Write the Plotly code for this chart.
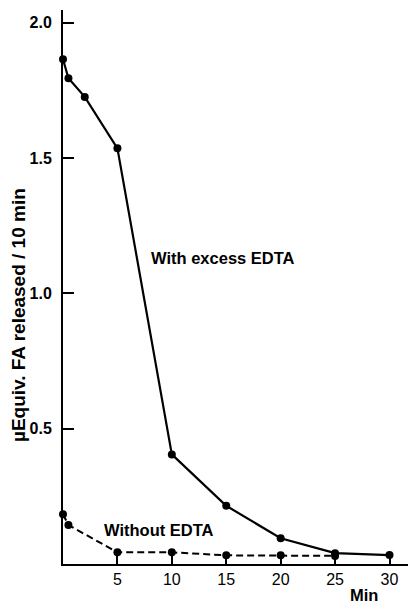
import plotly.graph_objects as go

# data
with_x = [0, 0.5, 2, 5, 10, 15, 20, 25, 30]
with_y = [1.865, 1.795, 1.726, 1.536, 0.405, 0.215, 0.095, 0.04, 0.033]
without_x = [0, 0.5, 5, 10, 15, 20, 25]
without_y = [0.184, 0.144, 0.043, 0.043, 0.032, 0.032, 0.03]
x_ticks = [5, 10, 15, 20, 25, 30]
y_ticks = [0.5, 1.0, 1.5, 2.0]
y_ticklabels = ["0.5", "1.0", "1.5", "2.0"]

FONT = "Liberation Sans"

fig = go.Figure()
fig.add_trace(go.Scatter(
    x=with_x, y=with_y, mode="lines+markers",
    line=dict(color="black", width=2.2),
    marker=dict(color="black", size=8),
    showlegend=False, cliponaxis=False))
fig.add_trace(go.Scatter(
    x=without_x, y=without_y, mode="lines+markers",
    line=dict(color="black", width=2, dash="7px,4px"),
    marker=dict(color="black", size=8),
    showlegend=False, cliponaxis=False))

fig.add_annotation(x=7.9, y=1.13, text="<b>With excess EDTA</b>", showarrow=False,
                   xanchor="left", yanchor="middle",
                   font=dict(family=FONT, size=16.5, color="black"))
fig.add_annotation(x=3.6, y=0.126, text="<b>Without EDTA</b>", showarrow=False,
                   xanchor="left", yanchor="middle",
                   font=dict(family=FONT, size=16.5, color="black"))
fig.add_annotation(x=1, xref="paper", y=-42 / 554, yref="paper", xshift=-28,
                   text="<b>Min</b>", showarrow=False,
                   xanchor="right", yanchor="bottom",
                   font=dict(family=FONT, size=16.5, color="black"))
fig.add_annotation(x=0, xref="paper", xshift=-45, y=0.92, yref="y",
                   text="<b>µEquiv. FA released / 10 min</b>", showarrow=False,
                   textangle=-90, xanchor="center", yanchor="middle",
                   font=dict(family=FONT, size=19, color="black"))

fig.update_layout(
    width=408, height=606,
    margin=dict(l=63, r=0, t=10, b=42),
    paper_bgcolor="white", plot_bgcolor="white",
    font=dict(family=FONT, size=16, color="black"),
    xaxis=dict(range=[0, 31.7], tickvals=x_ticks,
               ticks="inside", ticklen=11, tickwidth=2, tickcolor="black",
               showline=True, linecolor="black", linewidth=2,
               showgrid=False, zeroline=False,
               tickfont=dict(family=FONT, size=16, color="black"),
               tickprefix="<b>", ticksuffix="</b>"),
    yaxis=dict(range=[0, 2.047], tickvals=y_ticks, ticktext=["<b>%s</b>" % t for t in y_ticklabels],
               ticks="inside", ticklen=11, tickwidth=2, tickcolor="black",
               showline=True, linecolor="black", linewidth=2,
               showgrid=False, zeroline=False, ticklabelstandoff=6,
               tickfont=dict(family=FONT, size=16, color="black")),
)

fig.write_html("out.html")
